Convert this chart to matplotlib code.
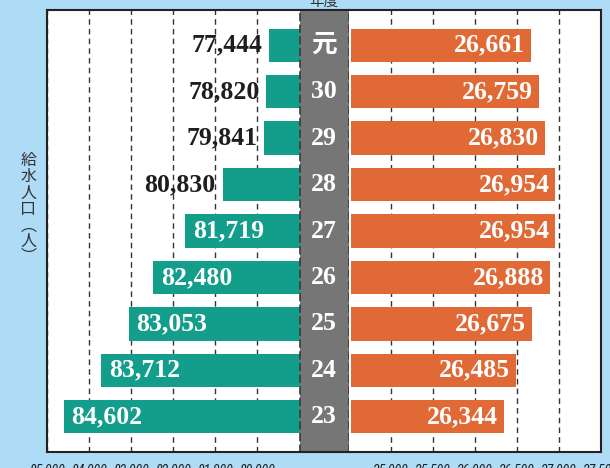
import matplotlib
matplotlib.use("Agg")
import matplotlib.pyplot as plt
from matplotlib import font_manager as fm
import numpy as np

# ---- data ----
years = ["元", "30", "29", "28", "27", "26", "25", "24", "23"]
population = [77444, 78820, 79841, 80830, 81719, 82480, 83053, 83712, 84602]   # 給水人口(人)
households = [26661, 26759, 26830, 26954, 26954, 26888, 26675, 26485, 26344]  # right series
left_ticks = [85000, 84000, 83000, 82000, 81000, 80000]
right_ticks = [25000, 25500, 26000, 26500, 27000, 27500]

TEAL = "#139D8B"
ORANGE = "#E06935"
GRAY = "#767676"
BG = "#AEDBF5"
FRAME = "#222222"
DASH = (0, (4, 3))

# pick a condensed sans font for tick labels if one is installed
def pick_narrow():
    for f in fm.fontManager.ttflist:
        if f.name in ("Liberation Sans Narrow", "Roboto Condensed", "Open Sans Condensed",
                      "DejaVu Sans Condensed"):
            return fm.FontProperties(fname=f.fname), 10
    for f in fm.fontManager.ttflist:
        st = str(f.stretch)
        if f.name in ("Roboto", "Open Sans", "Noto Sans", "DejaVu Sans", "Inter") and \
                ("condensed" in st) and f.weight in (400, "normal", "regular") and f.style == "normal":
            return fm.FontProperties(fname=f.fname), 10
    return fm.FontProperties(family="Liberation Sans"), 9

tick_fp, tick_fs = pick_narrow()
tick_fp.set_size(tick_fs)

W, H = 610, 468
fig = plt.figure(figsize=(W / 100, H / 100), dpi=100)
fig.patch.set_facecolor(BG)

def fx(px):
    return px / W

bottom = 1 - 452 / H
height = (452 - 10) / H
axL = fig.add_axes([fx(47), bottom, fx(299.6 - 47), height])
axC = fig.add_axes([fx(299.6), bottom, fx(349 - 299.6), height])
axR = fig.add_axes([fx(349), bottom, fx(601 - 349), height])

y = np.arange(len(years))
ylim = (8.76, -0.76)
bar_h = 0.72

serif = ["Liberation Serif", "Noto Sans CJK JP"]
fs_val = 18.5

# ---- left panel ----
left_base = 79000
pop = np.array(population, dtype=float)
# short bars are given a minimal visible length (compressed below 79,841)
ref = 79841
drawn = np.where(pop < ref, ref - (ref - pop) * 0.05, pop)
axL.set_xlim(85000, left_base)
axL.set_ylim(*ylim)
axL.barh(y, drawn - left_base, left=left_base, height=bar_h, color=TEAL, zorder=3)
axL.set_xticks(left_ticks)
axL.set_xticklabels([f"{t:,}" for t in left_ticks], fontproperties=tick_fp, color="#222")
axL.tick_params(axis="x", length=0, pad=8)
axL.set_yticks([])
axL.grid(axis="x", linestyle=DASH, color="#333", lw=1)
axL.set_axisbelow(True)
for i, (v, d) in enumerate(zip(population, drawn)):
    if v - left_base >= 2000:
        axL.annotate(f"{v:,}", xy=(d, i), xytext=(5.5, 0), textcoords="offset points",
                     ha="left", va="center", color="white", fontsize=fs_val,
                     fontweight="bold", family=serif, zorder=5)
    else:
        axL.annotate(f"{v:,}", xy=(d, i), xytext=(-5, 0), textcoords="offset points",
                     ha="right", va="center", color="#1e1e1e", fontsize=fs_val,
                     fontweight="bold", family=serif, zorder=5)
for s in ["left", "top", "bottom"]:
    axL.spines[s].set_color(FRAME)
    axL.spines[s].set_linewidth(1.5)
axL.spines["right"].set_visible(False)

# ---- center panel ----
axC.set_facecolor(GRAY)
axC.set_xlim(0, 1)
axC.set_ylim(*ylim)
axC.set_xticks([])
axC.set_yticks([])
for i, lab in enumerate(years):
    axC.text(0.5, i, lab, ha="center", va="center", color="white", fontsize=fs_val,
             fontweight="bold", family=serif)
for s in ["left", "right"]:
    axC.spines[s].set_linestyle(DASH)
    axC.spines[s].set_color("#3a3a3a")
    axC.spines[s].set_linewidth(1.2)
for s in ["top", "bottom"]:
    axC.spines[s].set_color(FRAME)
    axC.spines[s].set_linewidth(1.5)

# ---- right panel ----
right_base = 24500
axR.set_xlim(right_base, 27500)
axR.set_ylim(*ylim)
gap = 25
hh = np.array(households, dtype=float)
axR.barh(y, hh - (right_base + gap), left=right_base + gap, height=bar_h, color=ORANGE, zorder=3)
axR.set_xticks(right_ticks)
axR.set_xticklabels([f"{t:,}" for t in right_ticks], fontproperties=tick_fp, color="#222")
axR.tick_params(axis="x", length=0, pad=8)
axR.set_yticks([])
axR.grid(axis="x", linestyle=DASH, color="#333", lw=1)
axR.set_axisbelow(True)
for i, v in enumerate(households):
    axR.annotate(f"{v:,}", xy=(v, i), xytext=(-4, 0), textcoords="offset points",
                 ha="right", va="center", color="white", fontsize=fs_val,
                 fontweight="bold", family=serif, zorder=5)
for s in ["right", "top", "bottom"]:
    axR.spines[s].set_color(FRAME)
    axR.spines[s].set_linewidth(1.5)
axR.spines["left"].set_visible(False)

# ---- header & axis title ----
cjk = ["Noto Sans CJK JP", "DejaVu Sans"]
fig.text(fx(324), 1 - 9 / H, "年度", ha="center", va="bottom", fontsize=10.5,
         color="#333", family=cjk)

ylabel_chars = ["給", "水", "人", "口", "︵", "人", "︶"]
ylabel_y = [160, 176.5, 193, 209.5, 226, 241, 256]
for ch, py in zip(ylabel_chars, ylabel_y):
    fig.text(fx(28.5), 1 - py / H, ch, ha="center", va="center",
             fontsize=11.5, color="#333", family=cjk)

fig.savefig("out.png", dpi=100, facecolor=BG)
